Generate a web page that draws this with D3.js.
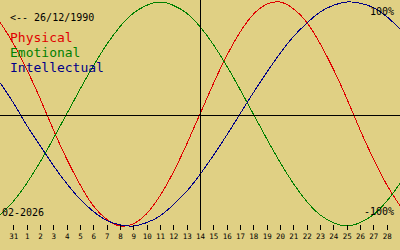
<!DOCTYPE html>
<html>
<head>
<meta charset="utf-8">
<script src="https://cdn.jsdelivr.net/npm/d3@7"></script>
<style>
  html, body { margin: 0; padding: 0; background: #e0d084; }
  svg { display: block; }
  text { font-family: "DejaVu Sans Mono", "Liberation Mono", monospace; }
</style>
</head>
<body>
<svg id="chart" width="400" height="250"></svg>
<script>
// day index -1 (30 Jan) .. 29 (1 Mar); 0 = 31 Jan
const days = d3.range(-1, 30);
const dayLabels = ["31","1","2","3","4","5","6","7","8","9","10","11","12","13","14",
  "15","16","17","18","19","20","21","22","23","24","25","26","27","28"];
const physical = [0.82, 0.63, 0.40, 0.14, -0.14, -0.40, -0.63, -0.82, -0.94, -1.00, -0.98,
  -0.89, -0.73, -0.52, -0.27, 0, 0.27, 0.52, 0.73, 0.89, 0.98, 1.00, 0.94, 0.82, 0.63,
  0.40, 0.14, -0.14, -0.40, -0.63, -0.82];
const emotional = [-0.90, -0.78, -0.62, -0.43, -0.22, 0, 0.22, 0.43, 0.62, 0.78, 0.90,
  0.97, 1.00, 0.97, 0.90, 0.78, 0.62, 0.43, 0.22, 0, -0.22, -0.43, -0.62, -0.78, -0.90,
  -0.97, -1.00, -0.97, -0.90, -0.78, -0.62];
const intellectual = [0.28, 0.10, -0.10, -0.28, -0.46, -0.62, -0.76, -0.87, -0.95, -0.99,
  -1.00, -0.97, -0.91, -0.81, -0.69, -0.54, -0.37, -0.19, 0, 0.19, 0.37, 0.54, 0.69,
  0.81, 0.91, 0.97, 1.00, 0.99, 0.95, 0.87, 0.76];
const birthLabel = "<-- 26/12/1990";
const monthLabel = "02-2026";
const todayIndex = 14;

const width = 400, height = 250;
const svg = d3.select("#chart");

const x = d3.scaleLinear().domain([-1, 29]).range([0, width]);
const y = d3.scaleLinear().domain([-1, 1]).range([226, 2]);

// curves
const series = [
  { name: "Physical", values: physical, color: "#e00000" },
  { name: "Emotional", values: emotional, color: "#008000" },
  { name: "Intellectual", values: intellectual, color: "#000088" }
];

const line = d3.line()
  .x((d, i) => x(days[i]))
  .y(d => y(d))
  .curve(d3.curveNatural);

svg.append("g").selectAll("path")
  .data(series)
  .enter()
  .append("path")
  .attr("d", d => line(d.values))
  .attr("fill", "none")
  .attr("stroke", d => d.color)
  .attr("stroke-width", 1)
  .attr("shape-rendering", "crispEdges");

// zero line and today line
svg.append("line")
  .attr("x1", 0).attr("x2", width)
  .attr("y1", Math.round(y(0)) + 1.5).attr("y2", Math.round(y(0)) + 1.5)
  .attr("stroke", "#000")
  .attr("shape-rendering", "crispEdges");
svg.append("line")
  .attr("x1", Math.round(x(todayIndex)) + 0.5).attr("x2", Math.round(x(todayIndex)) + 0.5)
  .attr("y1", 0).attr("y2", 230)
  .attr("stroke", "#000")
  .attr("shape-rendering", "crispEdges");

// day axis
const axis = d3.axisBottom(x)
  .tickValues(d3.range(0, 29))
  .tickFormat(d => dayLabels[d])
  .tickSize(5)
  .tickPadding(4);
const gx = svg.append("g")
  .attr("transform", "translate(0,225)")
  .call(axis);
gx.select(".domain").remove();
gx.selectAll(".tick line").attr("stroke", "#000").attr("shape-rendering", "crispEdges");
gx.selectAll(".tick text")
  .attr("fill", "#000")
  .style("font-family", "'DejaVu Sans Mono', monospace")
  .style("font-size", "7.5px");

// labels
svg.append("text").attr("x", 10).attr("y", 21)
  .attr("font-size", 10).attr("fill", "#000").text(birthLabel);

svg.append("g").selectAll("text")
  .data(series)
  .enter()
  .append("text")
  .attr("x", 10)
  .attr("y", (d, i) => 42 + i * 15)
  .attr("font-size", 13)
  .attr("fill", d => d.color)
  .text(d => d.name);

svg.append("text").attr("x", 394).attr("y", 15).attr("text-anchor", "end")
  .attr("font-size", 10).attr("fill", "#000").text("100%");
svg.append("text").attr("x", 394).attr("y", 215).attr("text-anchor", "end")
  .attr("font-size", 10).attr("fill", "#000").text("-100%");
svg.append("text").attr("x", 2).attr("y", 216)
  .attr("font-size", 10).attr("fill", "#000").text(monthLabel);
</script>
</body>
</html>
